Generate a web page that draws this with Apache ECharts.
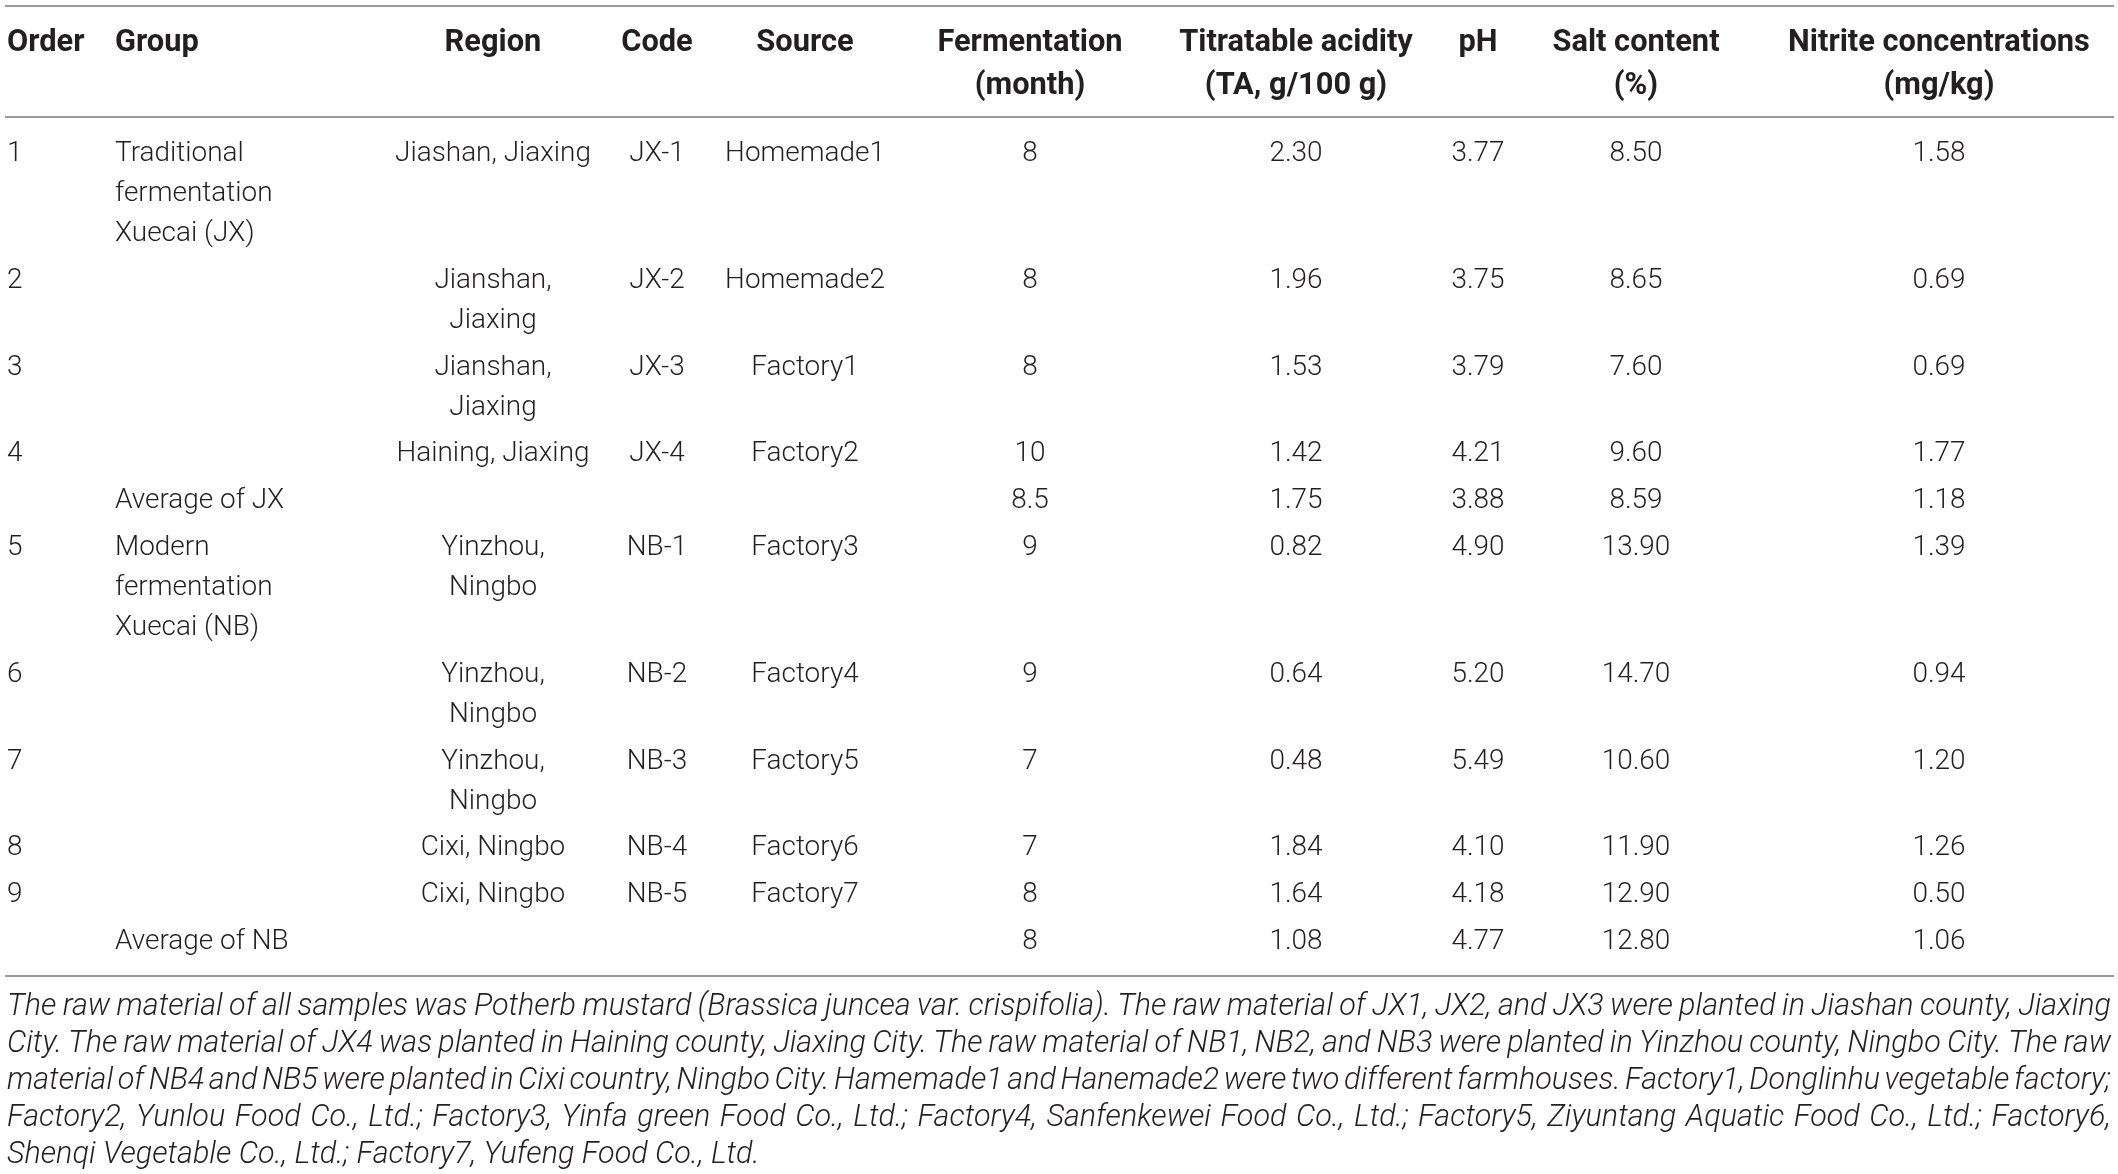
<!DOCTYPE html>
<html><head><meta charset="utf-8">
<script src="https://cdn.jsdelivr.net/npm/echarts@6/dist/echarts.min.js"></script>
<style>html,body{margin:0;padding:0;background:#fff}#c{width:2118px;height:1174px}</style>
</head><body><div id="c"></div>
<script>
// ---------- DATA ----------
const headers = ['Order', 'Group', 'Region', 'Code', 'Source', 'Fermentation\n(month)',
  'Titratable acidity\n(TA, g/100 g)', 'pH', 'Salt content\n(%)', 'Nitrite concentrations\n(mg/kg)'];
const orders = ['1', '2', '3', '4', '', '5', '6', '7', '8', '9', ''];
const groups = ['Traditional\nfermentation\nXuecai (JX)', '', '', '', 'Average of JX',
  'Modern\nfermentation\nXuecai (NB)', '', '', '', '', 'Average of NB'];
const regions = ['Jiashan, Jiaxing', 'Jianshan,\nJiaxing', 'Jianshan,\nJiaxing', 'Haining, Jiaxing', '',
  'Yinzhou,\nNingbo', 'Yinzhou,\nNingbo', 'Yinzhou,\nNingbo', 'Cixi, Ningbo', 'Cixi, Ningbo', ''];
const codes = ['JX-1', 'JX-2', 'JX-3', 'JX-4', '', 'NB-1', 'NB-2', 'NB-3', 'NB-4', 'NB-5', ''];
const sources = ['Homemade1', 'Homemade2', 'Factory1', 'Factory2', '', 'Factory3', 'Factory4',
  'Factory5', 'Factory6', 'Factory7', ''];
const fermentation = [8, 8, 8, 10, 8.5, 9, 9, 7, 7, 8, 8];
const acidity = [2.30, 1.96, 1.53, 1.42, 1.75, 0.82, 0.64, 0.48, 1.84, 1.64, 1.08];
const ph = [3.77, 3.75, 3.79, 4.21, 3.88, 4.90, 5.20, 5.49, 4.10, 4.18, 4.77];
const salt = [8.50, 8.65, 7.60, 9.60, 8.59, 13.90, 14.70, 10.60, 11.90, 12.90, 12.80];
const nitrite = [1.58, 0.69, 0.69, 1.77, 1.18, 1.39, 0.94, 1.20, 1.26, 0.50, 1.06];
const footnote = [
  'The raw material of all samples was Potherb mustard (Brassica juncea var. crispifolia). The raw material of JX1, JX2, and JX3 were planted in Jiashan county, Jiaxing',
  'City. The raw material of JX4 was planted in Haining county, Jiaxing City. The raw material of NB1, NB2, and NB3 were planted in Yinzhou county, Ningbo City. The raw',
  'material of NB4 and NB5 were planted in Cixi country, Ningbo City. Hamemade1 and Hanemade2 were two different farmhouses. Factory1, Donglinhu vegetable factory;',
  'Factory2, Yunlou Food Co., Ltd.; Factory3, Yinfa green Food Co., Ltd.; Factory4, Sanfenkewei Food Co., Ltd.; Factory5, Ziyuntang Aquatic Food Co., Ltd.; Factory6,',
  'Shenqi Vegetable Co., Ltd.; Factory7, Yufeng Food Co., Ltd.'
];

// ---------- LAYOUT ----------
const W = 2118, H = 1174;
const colX = [7, 115, 493, 657, 805, 1030, 1296, 1478, 1636, 1939];
const colAlign = ['left', 'left', 'center', 'center', 'center', 'center', 'center', 'center', 'center', 'center'];
const headY = 43, headLH = 43;
const bodyY = 154, bodyLH = 40, rowGap = 6.8;
const ruleY = [6, 117, 976];
const ruleX0 = 5, ruleX1 = 2114;
const noteX0 = 7, noteX1 = 2111, noteY = 1007, noteLH = 37;
const FAM = 'Roboto';
const COLOR = '#231f20';

const ctx = document.createElement('canvas').getContext('2d');
function measure(t, font) { ctx.font = font; return ctx.measureText(t).width; }
const bodySize = 100 * 196 / measure('Jiashan, Jiaxing', '300 100px ' + FAM);
const headSize = 100 * 302 / measure('Nitrite concentrations', 'bold 100px ' + FAM);
const noteSize = 100 * 753 / measure(footnote[4], 'italic 300 100px ' + FAM);

const cells = [];
function addCell(x, y, text, align, kind) { cells.push({ value: [x, y], text: text, align: align, kind: kind }); }

headers.forEach((h, c) => h.split('\n').forEach((t, k) => addCell(colX[c], headY + k * headLH, t, colAlign[c], 'head')));

const fmt2 = v => v.toFixed(2);
const rows = orders.map((o, i) => [o, groups[i], regions[i], codes[i], sources[i], String(fermentation[i]),
  fmt2(acidity[i]), fmt2(ph[i]), fmt2(salt[i]), fmt2(nitrite[i])]);
let y = bodyY;
rows.forEach(r => {
  let lines = 1;
  r.forEach((txt, c) => {
    if (!txt) return;
    const parts = txt.split('\n');
    lines = Math.max(lines, parts.length);
    parts.forEach((t, k) => addCell(colX[c], y + k * bodyLH, t, colAlign[c], 'body'));
  });
  y += lines * bodyLH + rowGap;
});

const noteFont = 'italic 300 ' + noteSize + 'px ' + FAM;
footnote.forEach((line, i) => {
  const ly = noteY + i * noteLH;
  if (i === footnote.length - 1) { addCell(noteX0, ly, line, 'left', 'note'); return; }
  const words = line.split(' ');
  const ws = words.map(w => measure(w, noteFont));
  const total = ws.reduce((a, b) => a + b, 0);
  const gap = (noteX1 - noteX0 - total) / (words.length - 1);
  let x = noteX0;
  words.forEach((w, k) => { addCell(x, ly, w, 'left', 'note'); x += ws[k] + gap; });
});

const styles = {
  head: { fontSize: headSize, fontWeight: 'bold', fontStyle: 'normal' },
  body: { fontSize: bodySize, fontWeight: 300, fontStyle: 'normal' },
  note: { fontSize: noteSize, fontWeight: 300, fontStyle: 'italic' }
};

const chart = echarts.init(document.getElementById('c'), null, { renderer: 'canvas' });
chart.setOption({
  animation: false,
  backgroundColor: '#fff',
  grid: { left: 0, right: 0, top: 0, bottom: 0 },
  xAxis: { type: 'value', min: 0, max: W, show: false },
  yAxis: { type: 'value', min: 0, max: H, inverse: true, show: false },
  series: [
    {
      type: 'custom', coordinateSystem: 'cartesian2d',
      data: ruleY.map(v => [ruleX0, v, ruleX1]),
      renderItem: (p, api) => {
        const a = api.coord([api.value(0), api.value(1)]);
        const b = api.coord([api.value(2), api.value(1)]);
        return { type: 'line', shape: { x1: a[0], y1: a[1], x2: b[0], y2: b[1] },
          style: { stroke: '#9b9b9b', lineWidth: 2 } };
      }
    },
    {
      type: 'custom', coordinateSystem: 'cartesian2d',
      data: cells.map(c => c.value),
      renderItem: (p, api) => {
        const d = cells[p.dataIndex];
        const pt = api.coord([api.value(0), api.value(1)]);
        const s = styles[d.kind];
        return { type: 'text', x: pt[0], y: pt[1],
          style: { text: d.text, fill: COLOR, fontFamily: FAM, fontSize: s.fontSize,
            fontWeight: s.fontWeight, fontStyle: s.fontStyle, align: d.align, verticalAlign: 'middle' } };
      }
    }
  ]
});
</script>
</body></html>
